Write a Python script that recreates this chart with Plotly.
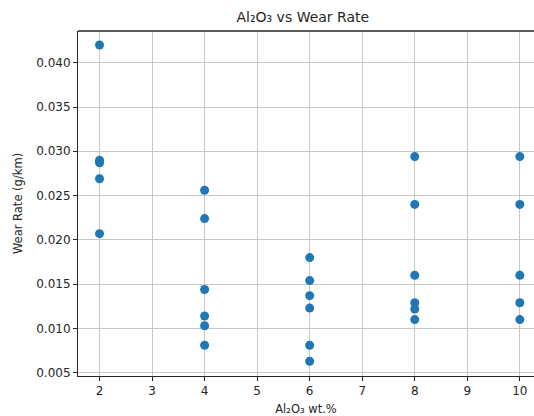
import plotly.graph_objects as go

al2o3_wt = [2, 2, 2, 2, 2,
            4, 4, 4, 4, 4, 4,
            6, 6, 6, 6, 6, 6,
            8, 8, 8, 8, 8, 8,
            10, 10, 10, 10, 10]
wear_rate = [0.0420, 0.0290, 0.0287, 0.0269, 0.0207,
             0.0256, 0.0224, 0.0144, 0.0114, 0.0103, 0.0081,
             0.0180, 0.0154, 0.0137, 0.0123, 0.0081, 0.0063,
             0.0294, 0.0240, 0.0160, 0.0129, 0.0122, 0.0110,
             0.0294, 0.0240, 0.0160, 0.0129, 0.0110]
x_ticks = [2, 3, 4, 5, 6, 7, 8, 9, 10]
y_ticks = [0.005, 0.010, 0.015, 0.020, 0.025, 0.030, 0.035, 0.040]
y_tick_text = ["0.005", "0.010", "0.015", "0.020", "0.025", "0.030", "0.035", "0.040"]

font = "DejaVu Sans"
ink = "#262626"

fig = go.Figure()
fig.add_trace(go.Scatter(
    x=al2o3_wt, y=wear_rate, mode="markers",
    marker=dict(color="#1f77b4", size=9, line=dict(width=0)),
    showlegend=False,
))

fig.update_layout(
    width=534, height=416,
    margin=dict(l=78, r=0, t=31, b=40),
    paper_bgcolor="white", plot_bgcolor="white",
    font=dict(family=font, size=12, color=ink),
    title=dict(text="Al₂O₃ vs Wear Rate", x=0.493, xref="paper",
               xanchor="center", y=1 - 17 / 416, yref="container",
               yanchor="middle", font=dict(family=font, size=14, color=ink)),
    shapes=[dict(type="line", xref="paper", yref="paper", x0=0, x1=1.02,
                 y0=1, y1=1, line=dict(color=ink, width=1.5))],
)
fig.update_xaxes(
    range=[1.59, 10.27], tickvals=x_ticks, ticktext=[str(v) for v in x_ticks],
    showgrid=True, gridcolor="#c8c8c8", gridwidth=1,
    showline=True, linecolor=ink, linewidth=1, mirror=False,
    ticks="outside", ticklen=4, tickcolor=ink, zeroline=False,
    tickfont=dict(size=12),
    title=dict(text="Al₂O₃ wt.%", standoff=7, font=dict(size=11.5)),
)
fig.update_yaxes(
    range=[0.00463, 0.04358], tickvals=y_ticks, ticktext=y_tick_text,
    showgrid=True, gridcolor="#c8c8c8", gridwidth=1,
    showline=True, linecolor=ink, linewidth=1, mirror=False,
    ticks="outside", ticklen=4, tickcolor=ink, zeroline=False,
    tickfont=dict(size=12),
    title=dict(text="Wear Rate (g/km)", standoff=11, font=dict(size=11.5)),
)

fig.write_html("out.html")
